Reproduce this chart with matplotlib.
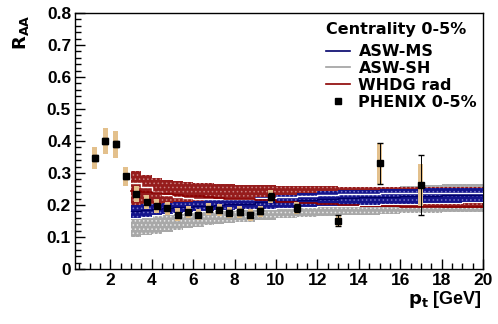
import matplotlib
matplotlib.use("Agg")
import matplotlib.pyplot as plt
import numpy as np
from matplotlib.ticker import MultipleLocator
from matplotlib.lines import Line2D

plt.rcParams['font.family'] = ['Liberation Sans', 'DejaVu Sans']
plt.rcParams['hatch.linewidth'] = 0.6

# PHENIX 0-5% data
phenix_pt = [1.25, 1.75, 2.25, 2.75, 3.25, 3.75, 4.25, 4.75, 5.25, 5.75, 6.25, 6.75,
             7.25, 7.75, 8.25, 8.75, 9.25, 9.75, 11.0, 13.0, 15.0, 17.0]
phenix_raa = [0.347, 0.400, 0.390, 0.290, 0.235, 0.210, 0.197, 0.190, 0.170, 0.177, 0.170, 0.187,
              0.185, 0.176, 0.178, 0.169, 0.180, 0.226, 0.190, 0.151, 0.330, 0.262]
phenix_stat = [0.010, 0.010, 0.010, 0.008, 0.006, 0.006, 0.006, 0.006, 0.006, 0.006, 0.006, 0.007,
               0.007, 0.007, 0.008, 0.008, 0.009, 0.010, 0.012, 0.018, 0.065, 0.095]
phenix_sys = [0.035, 0.040, 0.042, 0.030, 0.025, 0.022, 0.021, 0.020, 0.019, 0.019, 0.018, 0.019,
              0.019, 0.018, 0.018, 0.018, 0.018, 0.020, 0.018, 0.016, 0.065, 0.066]

# Theory bands (step edges)
band_pt = [3.0, 3.5, 4.0, 4.5, 5.0, 5.5, 6.0, 6.5, 7.0, 7.5, 8.0, 9.0, 10.0, 11.0,
           12.0, 13.0, 14.0, 15.0, 16.0, 17.0, 18.0, 19.0, 20.0]
whdg_lo = [0.190, 0.192, 0.195, 0.197, 0.200, 0.202, 0.204, 0.206, 0.207, 0.207, 0.206, 0.204, 0.202,
           0.200, 0.198, 0.196, 0.195, 0.194, 0.193, 0.192, 0.191, 0.190, 0.190]
whdg_hi = [0.305, 0.292, 0.284, 0.278, 0.274, 0.271, 0.269, 0.267, 0.266, 0.264, 0.263, 0.261, 0.260,
           0.259, 0.258, 0.257, 0.257, 0.257, 0.256, 0.256, 0.256, 0.256, 0.256]
whdg_mid = [0.245, 0.240, 0.236, 0.233, 0.231, 0.229, 0.227, 0.224, 0.222, 0.220, 0.218, 0.214, 0.210,
            0.206, 0.203, 0.200, 0.198, 0.196, 0.195, 0.194, 0.193, 0.192, 0.192]
aswms_lo = [0.158, 0.163, 0.168, 0.172, 0.175, 0.178, 0.180, 0.182, 0.184, 0.185, 0.186, 0.188, 0.190,
            0.193, 0.196, 0.198, 0.200, 0.202, 0.204, 0.206, 0.207, 0.208, 0.210]
aswms_hi = [0.200, 0.202, 0.204, 0.206, 0.208, 0.210, 0.212, 0.214, 0.216, 0.218, 0.220, 0.226, 0.232,
            0.238, 0.243, 0.246, 0.248, 0.250, 0.251, 0.252, 0.253, 0.254, 0.255]
aswms_mid = [0.180, 0.183, 0.186, 0.189, 0.192, 0.194, 0.196, 0.198, 0.200, 0.202, 0.204, 0.208, 0.212,
             0.216, 0.220, 0.222, 0.224, 0.226, 0.228, 0.229, 0.230, 0.231, 0.232]
aswsh_lo = [0.100, 0.105, 0.110, 0.116, 0.122, 0.127, 0.132, 0.136, 0.140, 0.143, 0.146, 0.152, 0.158,
            0.162, 0.165, 0.168, 0.170, 0.172, 0.174, 0.176, 0.177, 0.178, 0.180]
aswsh_hi = [0.205, 0.205, 0.207, 0.208, 0.210, 0.212, 0.214, 0.216, 0.218, 0.220, 0.222, 0.228, 0.234,
            0.240, 0.245, 0.250, 0.254, 0.257, 0.260, 0.262, 0.264, 0.265, 0.266]
aswsh_mid = [0.270, 0.255, 0.240, 0.230, 0.225, 0.222, 0.220, 0.219, 0.219, 0.219, 0.220, 0.222, 0.225,
             0.228, 0.231, 0.233, 0.235, 0.236, 0.237, 0.238, 0.238, 0.238, 0.238]

fig = plt.figure(figsize=(4.98, 3.24), dpi=100)
ax = fig.add_axes([0.151, 0.170, 0.819, 0.790])

# gray ASW-SH band
ax.fill_between(band_pt, aswsh_lo, aswsh_hi, step='post', facecolor='#a8a8a8',
                edgecolor='#e8e8e8', hatch='....', linewidth=0, zorder=1)
# red WHDG band
ax.fill_between(band_pt, whdg_lo, whdg_hi, step='post', facecolor='#961c1c',
                edgecolor='#c88080', hatch='....', linewidth=0, zorder=2)
# blue ASW-MS band
ax.fill_between(band_pt, aswms_lo, aswms_hi, step='post', facecolor='#14148c',
                edgecolor='#7878c8', hatch='....', linewidth=0, zorder=3)
# central lines
ax.step(band_pt, aswsh_mid, where='post', color='white', lw=1.0, zorder=4)
ax.step(band_pt, aswms_mid, where='post', color='#00006a', lw=1.0, zorder=4)
ax.step(band_pt, whdg_mid, where='post', color='#8b0000', lw=1.2, zorder=4)
ax.step(band_pt, aswms_lo, where='post', color='white', lw=0.8, zorder=4)

# PHENIX data
pt = np.array(phenix_pt)
raa = np.array(phenix_raa)
ax.bar(pt, 2 * np.array(phenix_sys), bottom=raa - np.array(phenix_sys), width=0.24,
       color='#e3c08c', linewidth=0, zorder=5)
ax.errorbar(pt, raa, yerr=phenix_stat, fmt='none', ecolor='black', elinewidth=0.7,
            capsize=2.5, capthick=1.0, zorder=6)
ax.plot(pt, raa, 's', color='black', markersize=5.0, zorder=7)

ax.set_xlim(0.3, 20)
ax.set_ylim(0, 0.8)
ax.xaxis.set_minor_locator(MultipleLocator(0.5))
ax.yaxis.set_minor_locator(MultipleLocator(0.02))
ax.set_xticks([2, 4, 6, 8, 10, 12, 14, 16, 18, 20])
ax.set_yticks([0, 0.1, 0.2, 0.3, 0.4, 0.5, 0.6, 0.7, 0.8])
ax.set_yticklabels(['0', '0.1', '0.2', '0.3', '0.4', '0.5', '0.6', '0.7', '0.8'])
ax.tick_params(which='both', direction='in', top=False, right=False, width=1.0)
ax.tick_params(which='major', length=7, labelsize=12.5, pad=3)
ax.tick_params(which='minor', length=4)
for lab in ax.get_xticklabels() + ax.get_yticklabels():
    lab.set_fontweight('bold')
for s in ax.spines.values():
    s.set_linewidth(1.0)

fig.text(0.042, 0.955, r'$\mathbf{R}_{\mathbf{AA}}$', rotation=90, ha='center', va='top',
         fontsize=13, fontweight='bold')
fig.text(0.968, 0.075, r'$\mathbf{p}_{\mathbf{t}}$ [GeV]', ha='right', va='center',
         fontsize=13, fontweight='bold')

handles = [Line2D([], [], color='#00006a', lw=1.2),
           Line2D([], [], color='#a0a0a0', lw=1.2),
           Line2D([], [], color='#8b0000', lw=1.2),
           Line2D([], [], color='black', marker='s', ls='none', markersize=4.5)]
labels = ['ASW-MS', 'ASW-SH', 'WHDG rad', 'PHENIX 0-5%']
leg = ax.legend(handles, labels, title='Centrality 0-5%', loc='upper right',
                bbox_to_anchor=(1.005, 0.995), frameon=False,
                prop={'family': 'DejaVu Sans', 'weight': 'bold', 'size': 11.5},
                title_fontproperties={'family': 'DejaVu Sans', 'weight': 'bold', 'size': 11.5},
                handlelength=1.5, handletextpad=0.55, labelspacing=0.12, borderaxespad=0.1)
leg._legend_box.align = 'left'
leg._legend_box.sep = 5

fig.savefig('out.png', dpi=100)
